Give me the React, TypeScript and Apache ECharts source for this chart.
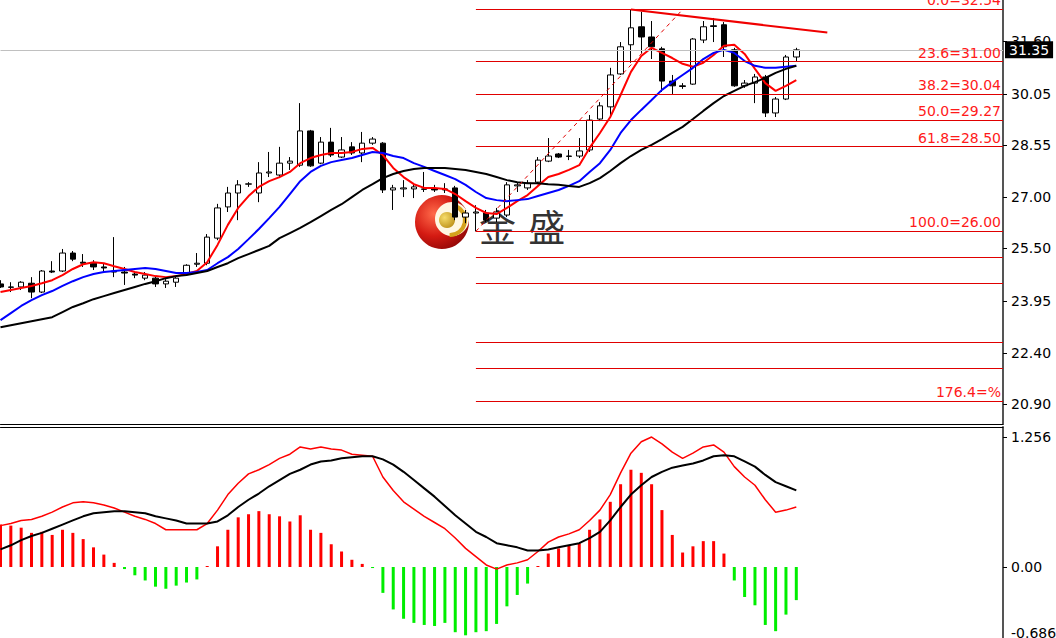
import { useEffect, useRef } from "react";
import * as echarts from "echarts";

// Bar slots on the time axis (78 traded bars + empty space on the right)
const barCount = 98;
const barNames = Array.from({ length: barCount }, (_, i) => String(i + 1));

// OHLC as [open, close, low, high]
const candles: number[][] = [
  [24.45, 24.36, 24.33, 24.56], [24.36, 24.35, 24.21, 24.5], [24.36, 24.5, 24.27, 24.53], [24.47, 24.21, 24.03, 24.65],
  [24.21, 24.83, 24.18, 24.86], [24.83, 24.8, 24.77, 25.12], [24.83, 25.36, 24.8, 25.48], [25.36, 25.18, 25.12, 25.42],
  [25.09, 25.06, 24.95, 25.33], [25.06, 24.95, 24.86, 25.15], [24.95, 24.92, 24.8, 25.06], [24.83, 24.8, 24.65, 25.83],
  [24.8, 24.77, 24.42, 24.95], [24.74, 24.71, 24.62, 24.83], [24.62, 24.71, 24.56, 24.8], [24.62, 24.45, 24.36, 24.68],
  [24.45, 24.53, 24.33, 24.59], [24.5, 24.62, 24.36, 24.71], [24.77, 25.0, 24.71, 25.03], [25.03, 25.06, 24.95, 25.36],
  [25.06, 25.83, 25.0, 25.92], [25.8, 26.69, 25.74, 26.81], [26.72, 27.13, 26.57, 27.31], [27.13, 27.37, 26.33, 27.51],
  [27.39, 27.4, 27.31, 27.45], [27.13, 27.72, 26.86, 28.04], [27.72, 27.75, 27.6, 28.34], [27.66, 28.01, 27.57, 28.49],
  [28.01, 28.07, 27.81, 28.19], [27.95, 28.96, 27.9, 29.78], [28.96, 27.93, 27.9, 28.99], [28.01, 28.63, 27.98, 28.78],
  [28.63, 28.25, 28.19, 29.05], [28.19, 28.4, 28.16, 28.78], [28.49, 28.31, 28.25, 28.63], [28.31, 28.6, 28.04, 28.93],
  [28.6, 28.72, 28.55, 28.78], [28.6, 27.22, 27.13, 28.63], [27.22, 27.28, 26.63, 27.37], [27.25, 27.28, 27.01, 27.51],
  [27.25, 27.31, 26.98, 27.42], [27.25, 27.24, 27.16, 27.75], [27.25, 27.22, 27.16, 27.37], [27.22, 27.25, 27.13, 27.42],
  [27.28, 26.42, 26.33, 27.34], [26.42, 26.54, 26.24, 26.63], [26.54, 26.57, 26.0, 26.77], [26.54, 26.33, 26.27, 26.63],
  [26.39, 26.57, 26.27, 26.69], [26.48, 27.37, 26.42, 27.45], [27.34, 27.37, 27.16, 27.45], [27.28, 27.42, 27.22, 27.51],
  [27.45, 28.1, 27.39, 28.19], [28.07, 28.22, 28.04, 28.75], [28.28, 28.19, 28.16, 28.31], [28.22, 28.21, 28.1, 28.4],
  [28.22, 28.37, 28.16, 28.75], [28.4, 29.28, 28.34, 29.43], [29.31, 29.7, 29.25, 29.81], [29.67, 30.61, 29.43, 30.82],
  [30.64, 31.44, 30.61, 31.58], [31.5, 32.0, 30.97, 32.54], [32.03, 31.73, 31.26, 32.47], [31.73, 31.44, 31.08, 32.2],
  [31.38, 30.43, 30.11, 31.44], [30.43, 30.29, 30.05, 30.61], [30.29, 30.27, 30.2, 30.37], [30.34, 31.67, 30.32, 31.7],
  [31.64, 32.03, 31.55, 32.2], [32.06, 32.04, 31.58, 32.29], [32.09, 31.44, 31.14, 32.17], [31.35, 30.29, 30.26, 31.41],
  [30.29, 30.37, 30.23, 30.46], [30.37, 30.55, 29.78, 30.64], [30.55, 29.49, 29.37, 30.61], [29.49, 29.9, 29.37, 29.96],
  [29.9, 31.14, 29.87, 31.2], [31.14, 31.35, 31.0, 31.41],
];

// Moving averages
const maFast = [
  24.21, 24.27, 24.33, 24.39, 24.47, 24.56, 24.71, 24.89, 25.03, 25.09,
  25.06, 24.97, 24.89, 24.8, 24.74, 24.68, 24.65, 24.68, 24.74, 24.83,
  25.09, 25.6, 26.19, 26.69, 27.04, 27.31, 27.48, 27.6, 27.75, 28.01,
  28.16, 28.25, 28.31, 28.31, 28.34, 28.43, 28.46, 28.25, 27.87, 27.6,
  27.39, 27.28, 27.28, 27.25, 27.1, 26.89, 26.69, 26.54, 26.51, 26.69,
  26.89, 27.07, 27.34, 27.6, 27.69, 27.81, 27.95, 28.46, 28.9, 29.37,
  30.02, 30.7, 31.17, 31.41, 31.26, 31.11, 30.94, 30.85, 30.97, 31.2,
  31.47, 31.5, 31.23, 30.79, 30.37, 30.14, 30.29, 30.46,
];
const maMid = [
  23.38, 23.59, 23.8, 23.97, 24.12, 24.24, 24.39, 24.53, 24.65, 24.74,
  24.8, 24.83, 24.86, 24.89, 24.92, 24.89, 24.83, 24.77, 24.77, 24.8,
  24.86, 25.06, 25.24, 25.48, 25.77, 26.07, 26.39, 26.72, 27.1, 27.48,
  27.75, 27.93, 28.04, 28.1, 28.16, 28.25, 28.34, 28.31, 28.22, 28.16,
  28.01, 27.9, 27.78, 27.66, 27.54, 27.37, 27.16, 26.98, 26.92, 26.89,
  26.92, 26.95, 27.04, 27.13, 27.22, 27.34, 27.48, 27.75, 28.01, 28.4,
  28.9, 29.28, 29.58, 29.87, 30.17, 30.4, 30.61, 30.82, 31.08, 31.26,
  31.35, 31.26, 31.02, 30.88, 30.82, 30.82, 30.85, 30.88,
];
const maSlow = [
  23.17, 23.23, 23.29, 23.35, 23.41, 23.47, 23.62, 23.77, 23.88, 24.0,
  24.09, 24.18, 24.27, 24.36, 24.45, 24.53, 24.62, 24.68, 24.71, 24.77,
  24.83, 24.95, 25.06, 25.21, 25.33, 25.45, 25.57, 25.8, 25.95, 26.1,
  26.27, 26.45, 26.63, 26.8, 27.01, 27.22, 27.39, 27.57, 27.69, 27.78,
  27.84, 27.87, 27.87, 27.87, 27.84, 27.81, 27.75, 27.69, 27.6, 27.51,
  27.45, 27.42, 27.42, 27.39, 27.37, 27.34, 27.31, 27.42, 27.57, 27.78,
  28.01, 28.22, 28.4, 28.55, 28.72, 28.9, 29.08, 29.31, 29.55, 29.78,
  29.99, 30.14, 30.29, 30.4, 30.52, 30.67, 30.79, 30.88,
];

// MACD pane
const macdHist = [
  0.41, 0.4, 0.38, 0.33, 0.34, 0.31, 0.36, 0.33, 0.27, 0.19,
  0.12, 0.04, -0.02, -0.08, -0.13, -0.19, -0.21, -0.18, -0.15, -0.12,
  0.01, 0.2, 0.36, 0.48, 0.51, 0.54, 0.51, 0.49, 0.44, 0.5,
  0.36, 0.33, 0.22, 0.15, 0.07, 0.03, -0.01, -0.25, -0.41, -0.5,
  -0.54, -0.56, -0.57, -0.54, -0.63, -0.66, -0.63, -0.62, -0.55, -0.38,
  -0.27, -0.16, 0.01, 0.13, 0.18, 0.21, 0.23, 0.36, 0.46, 0.63,
  0.8, 0.94, 0.91, 0.8, 0.55, 0.31, 0.14, 0.2, 0.25, 0.25,
  0.13, -0.13, -0.29, -0.37, -0.56, -0.62, -0.46, -0.32,
];
const macdDif = [
  0.4, 0.42, 0.45, 0.46, 0.49, 0.53, 0.58, 0.62, 0.63, 0.62,
  0.6, 0.57, 0.53, 0.49, 0.46, 0.42, 0.36, 0.36, 0.36, 0.36,
  0.42, 0.55, 0.7, 0.81, 0.9, 0.94, 0.99, 1.05, 1.09, 1.16,
  1.14, 1.16, 1.14, 1.13, 1.09, 1.08, 1.07, 0.87, 0.74, 0.63,
  0.56, 0.49, 0.43, 0.37, 0.28, 0.18, 0.1, 0.02, -0.02, 0.02,
  0.04, 0.07, 0.15, 0.24, 0.29, 0.32, 0.36, 0.45, 0.55, 0.7,
  0.91, 1.1, 1.21, 1.256, 1.19, 1.11, 1.05, 1.1, 1.16, 1.18,
  1.11, 0.97, 0.87, 0.79, 0.65, 0.53, 0.55, 0.58,
];
const macdDea = [
  0.17, 0.21, 0.26, 0.3, 0.33, 0.37, 0.41, 0.45, 0.49, 0.52,
  0.53, 0.54, 0.54, 0.53, 0.52, 0.49, 0.47, 0.45, 0.42, 0.42,
  0.42, 0.44, 0.5, 0.58, 0.65, 0.71, 0.78, 0.84, 0.9, 0.94,
  0.99, 1.02, 1.03, 1.05, 1.06, 1.07, 1.07, 1.04, 0.99, 0.92,
  0.84, 0.76, 0.68, 0.59, 0.5, 0.42, 0.34, 0.29, 0.23, 0.21,
  0.19, 0.16, 0.16, 0.17, 0.19, 0.21, 0.23, 0.28, 0.34, 0.45,
  0.58, 0.7, 0.79, 0.87, 0.92, 0.96, 0.98, 1.0, 1.03, 1.07,
  1.08, 1.07, 1.02, 0.97, 0.89, 0.82, 0.78, 0.74,
];

// Axis ticks
const priceTicks = [31.6, 30.05, 28.55, 27.0, 25.5, 23.95, 22.4, 20.9];
const macdTicks = [1.256, 0, -0.686];
const priceRange = [20.32, 32.82];
const macdRange = [-0.686, 1.353];
const lastPrice = 31.35;

// Fibonacci retracement drawn from bar 47 (low 26.00) up to the 32.54 high
const fibStartBar = 46;
const fibPrices = [32.54, 31.0, 30.04, 29.27, 28.5, 26.0, 25.23, 24.46, 22.73, 21.96, 21.0];
const fibLabels = ["0.0=32.54", "23.6=31.00", "38.2=30.04", "50.0=29.27", "61.8=28.50", "100.0=26.00", "", "", "", "", "176.4=%"];
const fibDiagonal: [number, number][] = [[46, 26.0], [66, 32.54]];
const resistanceLine: [number, number][] = [[61, 32.54], [80, 31.86]];

const FONT = "DejaVu Sans";

export default function App() {
  const ref = useRef<HTMLDivElement>(null);

  useEffect(() => {
    if (!ref.current) return;
    const chart = echarts.init(ref.current, null, { renderer: "svg" });

    const fibMarks = fibPrices.map((p, i) => [
      {
        coord: [barNames[fibStartBar], p],
        label: {
          show: fibLabels[i] !== "",
          formatter: fibLabels[i],
          position: "insideEndTop",
          distance: 2,
          color: "#ff1a1a",
          fontFamily: FONT,
          fontSize: 14,
        },
        lineStyle: { color: "#e00000", width: 1, type: "solid" },
      },
      { coord: [barNames[barCount - 1], p] },
    ]);

    const option: any = {
      animation: false,
      backgroundColor: "#ffffff",
      grid: [
        { left: 0.5, top: 0, width: 1002.5, height: 424, outerBoundsMode: "none", containLabel: false },
        { left: 0.5, top: 427, width: 1002.5, height: 211, outerBoundsMode: "none", containLabel: false },
      ],
      xAxis: [
        {
          type: "category",
          gridIndex: 0,
          data: barNames,
          boundaryGap: false,
          axisLine: { show: true, onZero: false, lineStyle: { color: "#000", width: 1 } },
          axisTick: { show: false },
          axisLabel: { show: false },
          splitLine: { show: false },
        },
        {
          type: "category",
          gridIndex: 1,
          data: barNames,
          boundaryGap: false,
          position: "top",
          axisLine: { show: true, onZero: false, lineStyle: { color: "#000", width: 1 } },
          axisTick: { show: false },
          axisLabel: { show: false },
          splitLine: { show: false },
        },
      ],
      yAxis: [
        {
          type: "value",
          gridIndex: 0,
          position: "right",
          min: priceRange[0],
          max: priceRange[1],
          axisLine: { show: true, lineStyle: { color: "#555", width: 2 } },
          axisTick: { show: true, customValues: priceTicks, length: 4, lineStyle: { color: "#000" } },
          axisLabel: {
            customValues: priceTicks,
            formatter: (v: number) => v.toFixed(2),
            color: "#000",
            fontFamily: FONT,
            fontSize: 14,
            margin: 8,
          },
          splitLine: { show: false },
        },
        {
          type: "value",
          gridIndex: 1,
          position: "right",
          min: macdRange[0],
          max: macdRange[1],
          axisLine: { show: true, lineStyle: { color: "#555", width: 2 } },
          axisTick: { show: true, customValues: macdTicks, length: 4, lineStyle: { color: "#000" } },
          axisLabel: {
            customValues: macdTicks,
            formatter: (v: number) =>
              v === 0 ? "0.00" : v === macdRange[0] ? "{low|" + v + "}" : String(v),
            color: "#000",
            fontFamily: FONT,
            fontSize: 14,
            margin: 8,
            rich: {
              low: { fontFamily: FONT, fontSize: 14, color: "#000", padding: [0, 0, 10, 0] },
            },
          },
          splitLine: { show: false },
        },
      ],
      graphic: [
        {
          type: "group",
          z: 0,
          silent: true,
          children: [
            {
              type: "circle",
              shape: { cx: 442, cy: 222, r: 27 },
              style: {
                fill: new echarts.graphic.RadialGradient(0.35, 0.35, 0.75, [
                  { offset: 0, color: "#ff6a4a" },
                  { offset: 0.55, color: "#d41a12" },
                  { offset: 1, color: "#8c0606" },
                ]),
              },
            },
            {
              type: "circle",
              shape: { cx: 452, cy: 219, r: 17 },
              style: { fill: "#fff7e2" },
            },
            {
              type: "arc",
              shape: { cx: 450, cy: 220, r: 15, startAngle: -1.2, endAngle: 1.6 },
              style: { stroke: "#d4a21c", lineWidth: 4, fill: "none" },
            },
            {
              type: "circle",
              shape: { cx: 447, cy: 220, r: 8 },
              style: {
                fill: new echarts.graphic.RadialGradient(0.35, 0.35, 0.8, [
                  { offset: 0, color: "#f6dc6a" },
                  { offset: 1, color: "#b88a12" },
                ]),
              },
            },
            {
              type: "text",
              x: 479,
              y: 226,
              style: {
                text: "金\u2004盛",
                fill: "#333333",
                fontFamily: "Noto Sans CJK SC",
                fontSize: 37,
                verticalAlign: "middle",
                align: "left",
              },
            },
          ],
        },
      ],
      series: [
        {
          type: "candlestick",
          name: "price",
          xAxisIndex: 0,
          yAxisIndex: 0,
          data: candles,
          barWidth: 6,
          itemStyle: {
            color: "#ffffff",
            color0: "#000000",
            borderColor: "#000000",
            borderColor0: "#000000",
            borderWidth: 1,
          },
          z: 3,
          markLine: {
            silent: true,
            symbol: ["none", "none"],
            animation: false,
            data: [
              ...fibMarks,
              [
                { coord: [barNames[fibDiagonal[0][0]], fibDiagonal[0][1]], lineStyle: { color: "#e00000", width: 1, type: [4, 4] } },
                { coord: [barNames[fibDiagonal[1][0]], fibDiagonal[1][1]] },
              ],
              [
                { coord: [barNames[resistanceLine[0][0]], resistanceLine[0][1]], lineStyle: { color: "#f00000", width: 2, type: "solid" } },
                { coord: [barNames[resistanceLine[1][0]], resistanceLine[1][1]] },
              ],
              {
                yAxis: lastPrice,
                lineStyle: { color: "#c0c0c0", width: 1, type: "solid" },
                label: {
                  show: true,
                  position: "end",
                  distance: 2,
                  formatter: lastPrice.toFixed(2),
                  color: "#ffffff",
                  backgroundColor: "#000000",
                  padding: [2, 4, 1, 4],
                  fontFamily: FONT,
                  fontSize: 14,
                },
              },
            ],
            label: { show: false },
          },
        },
        {
          type: "line",
          name: "MA fast",
          xAxisIndex: 0,
          yAxisIndex: 0,
          data: maFast,
          symbol: "none",
          lineStyle: { color: "#ff0000", width: 2 },
          z: 4,
        },
        {
          type: "line",
          name: "MA mid",
          xAxisIndex: 0,
          yAxisIndex: 0,
          data: maMid,
          symbol: "none",
          lineStyle: { color: "#0000ff", width: 2 },
          z: 4,
        },
        {
          type: "line",
          name: "MA slow",
          xAxisIndex: 0,
          yAxisIndex: 0,
          data: maSlow,
          symbol: "none",
          lineStyle: { color: "#000000", width: 2 },
          z: 4,
        },
        {
          type: "bar",
          name: "MACD",
          xAxisIndex: 1,
          yAxisIndex: 1,
          data: macdHist,
          barWidth: 3,
          itemStyle: {
            color: (p: any) => (p.value >= 0 ? "#ff0000" : "#00ee00"),
          },
        },
        {
          type: "line",
          name: "DIF",
          xAxisIndex: 1,
          yAxisIndex: 1,
          data: macdDif,
          symbol: "none",
          lineStyle: { color: "#ff0000", width: 1.5 },
        },
        {
          type: "line",
          name: "DEA",
          xAxisIndex: 1,
          yAxisIndex: 1,
          data: macdDea,
          symbol: "none",
          lineStyle: { color: "#000000", width: 2 },
        },
      ],
    };

    chart.setOption(option);
    return () => chart.dispose();
  }, []);

  return (
    <div
      ref={ref}
      style={{ position: "fixed", left: 0, top: 0, width: 1056, height: 638, background: "#fff" }}
    />
  );
}
